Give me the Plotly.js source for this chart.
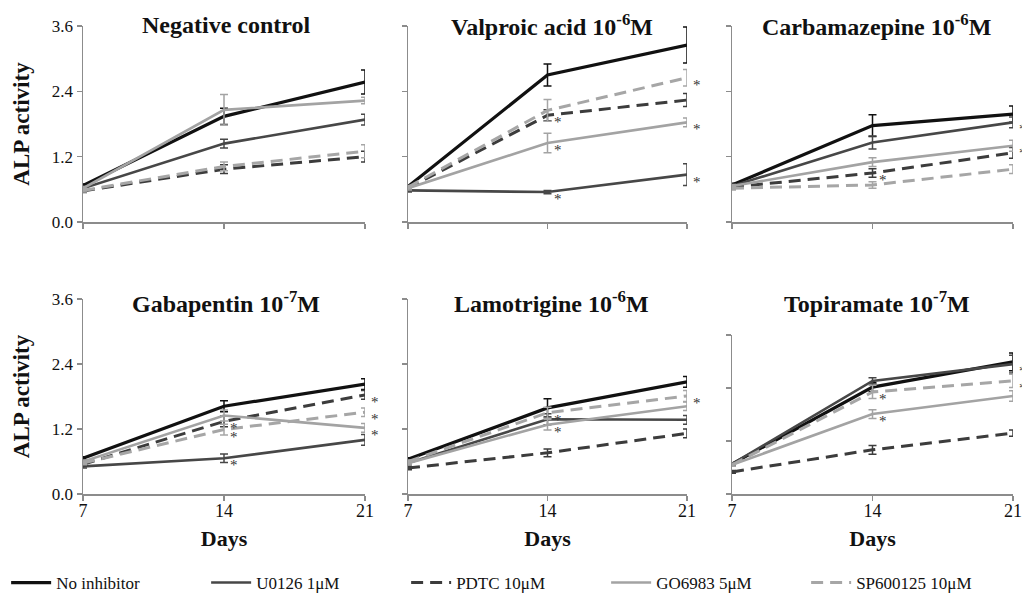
<!DOCTYPE html>
<html>
<head>
<meta charset="utf-8">
<script src="https://cdn.plot.ly/plotly-3.0.1.min.js"></script>
<style>html,body{margin:0;padding:0;background:#fff;}#chart{width:1022px;height:604px;}</style>
</head>
<body>
<div id="chart"></div>
<script>
// ---- data ----
const days = [7, 14, 21];
const seriesNames = ['No inhibitor', 'U0126 1μM', 'PDTC 10μM', 'GO6983 5μM', 'SP600125 10μM'];
const yTicks = [0, 1.2, 2.4, 3.6];
const yTickLabels = ['0.0', '1.2', '2.4', '3.6'];
const panelTitles = ['Negative control', 'Valproic acid 10<sup>-6</sup>M', 'Carbamazepine 10<sup>-6</sup>M',
                     'Gabapentin 10<sup>-7</sup>M', 'Lamotrigine 10<sup>-6</sup>M', 'Topiramate 10<sup>-7</sup>M'];

// series order: No inhibitor, U0126, PDTC, GO6983, SP600125 ; values at days 7,14,21
const negValues = [[0.67, 1.94, 2.57], [0.62, 1.44, 1.88], [0.57, 0.97, 1.20], [0.62, 2.06, 2.23], [0.58, 1.02, 1.30]];
const negErrors = [[0.03, 0.15, 0.22], [0.03, 0.08, 0.10], [0.03, 0.08, 0.10], [0.03, 0.28, 0.06], [0.03, 0.08, 0.12]];
const negStars  = [[0, 0, 0], [0, 0, 0], [0, 0, 0], [0, 0, 0], [0, 0, 0]];

const valValues = [[0.65, 2.70, 3.25], [0.58, 0.55, 0.87], [0.62, 1.96, 2.24], [0.62, 1.45, 1.83], [0.64, 2.05, 2.65]];
const valErrors = [[0.03, 0.20, 0.33], [0.03, 0.03, 0.20], [0.03, 0.10, 0.12], [0.03, 0.18, 0.08], [0.03, 0.20, 0.15]];
const valStars  = [[0, 0, 0], [0, 1, 1], [0, 1, 0], [0, 1, 1], [0, 0, 1]];

const carValues = [[0.68, 1.77, 1.98], [0.66, 1.46, 1.83], [0.64, 0.90, 1.27], [0.66, 1.10, 1.40], [0.62, 0.68, 0.97]];
const carErrors = [[0.03, 0.20, 0.15], [0.03, 0.12, 0.10], [0.03, 0.08, 0.10], [0.03, 0.08, 0.10], [0.03, 0.06, 0.08]];
const carStars  = [[0, 0, 0], [0, 0, 1], [0, 1, 0], [0, 0, 1], [0, 0, 0]];

const gabValues = [[0.66, 1.62, 2.03], [0.51, 0.66, 1.00], [0.55, 1.34, 1.83], [0.60, 1.45, 1.22], [0.57, 1.19, 1.51]];
const gabErrors = [[0.03, 0.10, 0.10], [0.03, 0.08, 0.10], [0.03, 0.10, 0.08], [0.03, 0.10, 0.08], [0.03, 0.10, 0.08]];
const gabStars  = [[0, 0, 0], [0, 1, 0], [0, 1, 1], [0, 0, 1], [0, 1, 1]];

const lamValues = [[0.64, 1.59, 2.07], [0.57, 1.38, 1.37], [0.48, 0.76, 1.12], [0.57, 1.28, 1.62], [0.60, 1.50, 1.81]];
const lamErrors = [[0.03, 0.17, 0.10], [0.03, 0.10, 0.08], [0.03, 0.07, 0.08], [0.03, 0.10, 0.08], [0.03, 0.10, 0.10]];
const lamStars  = [[0, 0, 0], [0, 0, 0], [0, 0, 0], [0, 1, 0], [0, 1, 1]];

const topValues = [[0.68, 2.42, 2.99], [0.68, 2.56, 2.94], [0.50, 1.00, 1.38], [0.66, 1.81, 2.22], [0.66, 2.31, 2.56]];
const topErrors = [[0.03, 0.10, 0.20], [0.03, 0.07, 0.20], [0.03, 0.10, 0.07], [0.03, 0.10, 0.12], [0.03, 0.15, 0.15]];
const topStars  = [[0, 0, 0], [0, 0, 1], [0, 0, 0], [0, 1, 0], [0, 1, 1]];

// ---- styles / layout ----
const panels = [
  {values: negValues, errors: negErrors, stars: negStars},
  {values: valValues, errors: valErrors, stars: valStars},
  {values: carValues, errors: carErrors, stars: carStars},
  {values: gabValues, errors: gabErrors, stars: gabStars},
  {values: lamValues, errors: lamErrors, stars: lamStars},
  {values: topValues, errors: topErrors, stars: topStars}
];
const seriesStyle = [
  {color: '#111111', width: 3.2, dash: 'solid'},
  {color: '#474747', width: 2.6, dash: 'solid'},
  {color: '#3c3c3c', width: 3, dash: '12px,7px'},
  {color: '#a3a3a3', width: 2.6, dash: 'solid'},
  {color: '#a6a6a6', width: 3, dash: '12px,7px'}
];
const W = 1022, H = 604;
const xDom = [[83, 365], [408, 687], [732, 1013]];
const yDom = [[222, 26], [222, 26], [222, 26], [494, 299], [494, 299], [494, 335]];
const font = 'Liberation Serif, Times New Roman, serif';
const axisColor = '#8c8c8c';

const traces = [];
const annotations = [];
const layout = {
  width: W, height: H,
  margin: {l: 0, r: 0, t: 0, b: 0},
  paper_bgcolor: '#fff', plot_bgcolor: '#fff',
  font: {family: font, color: '#111'},
  showlegend: true,
  legend: {orientation: 'h', x: 0.006, xanchor: 'left', y: 1 - 583 / H, yanchor: 'middle',
           font: {family: font, size: 17, color: '#111'}, entrywidthmode: 'pixels', entrywidth: 145,
           itemwidth: 40, tracegroupgap: 0},
  annotations: annotations
};

panels.forEach((p, pi) => {
  const col = pi % 3, row = Math.floor(pi / 3);
  const ax = pi === 0 ? '' : String(pi + 1);
  p.values.forEach((vals, si) => {
    const st = seriesStyle[si];
    traces.push({
      x: days, y: vals, type: 'scatter', mode: 'lines',
      name: seriesNames[si], legendgroup: seriesNames[si], showlegend: pi === 0,
      xaxis: 'x' + ax, yaxis: 'y' + ax,
      line: {color: st.color, width: st.width, dash: st.dash},
      error_y: {type: 'data', array: p.errors[si], visible: true, color: st.color, thickness: 1.5, width: 4},
      hoverinfo: 'skip'
    });
    p.stars[si].forEach((flag, di) => {
      if (flag) {
        annotations.push({xref: 'x' + ax, yref: 'y' + ax, x: days[di], y: vals[di],
          text: '*', showarrow: false, xshift: 10, yshift: -7,
          font: {family: font, size: 15, color: '#333'}});
      }
    });
  });
  const xd = xDom[col], yd = yDom[pi];
  const xa = {
    domain: [xd[0] / W, xd[1] / W], anchor: 'y' + ax, range: [7, 21],
    tickvals: days, ticktext: days.map(String), showticklabels: row === 1,
    ticks: 'outside', ticklen: 5, tickcolor: axisColor, tickwidth: 1.2, ticklabelstandoff: -5,
    showline: true, linecolor: axisColor, linewidth: 1.5, showgrid: false, zeroline: false,
    tickfont: {family: font, size: 18, color: '#111'}, automargin: false, fixedrange: true
  };
  if (row === 1) xa.title = {text: '<b>Days</b>', font: {family: font, size: 22, color: '#111'}, standoff: 10};
  const ya = {
    domain: [1 - yd[0] / H, 1 - yd[1] / H], anchor: 'x' + ax, range: [0, 3.6],
    tickvals: yTicks, ticktext: yTickLabels, showticklabels: col === 0,
    ticks: 'outside', ticklen: 5, tickcolor: axisColor, tickwidth: 1.2,
    showline: true, linecolor: axisColor, linewidth: 1.5, showgrid: false, zeroline: false,
    tickfont: {family: font, size: 17, color: '#111'}, automargin: false, fixedrange: true
  };
  if (col === 0) ya.title = {text: '<b>ALP activity</b>', font: {family: font, size: 23, color: '#111'}, standoff: 16};
  layout['xaxis' + ax] = xa;
  layout['yaxis' + ax] = ya;
  annotations.push({xref: 'paper', yref: 'paper', x: (xd[0] + xd[1]) / 2 / W + (col === 0 ? 0.002 : 0.004),
    y: 1 - (row === 0 ? 25 : 302) / H, xanchor: 'center', yanchor: 'middle', showarrow: false,
    text: '<b>' + panelTitles[pi] + '</b>', font: {family: font, size: 24, color: '#111'}});
});

Plotly.newPlot('chart', traces, layout, {displayModeBar: false, staticPlot: true});
</script>
</body>
</html>
